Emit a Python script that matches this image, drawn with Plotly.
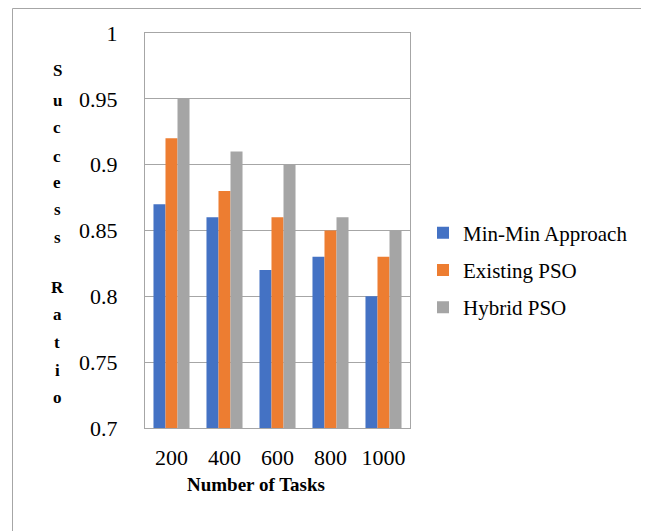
import plotly.graph_objects as go

categories = ["200", "400", "600", "800", "1000"]
min_min = [0.87, 0.86, 0.82, 0.83, 0.80]
existing_pso = [0.92, 0.88, 0.86, 0.85, 0.83]
hybrid_pso = [0.95, 0.91, 0.90, 0.86, 0.85]
series_names = ["Min-Min Approach", "Existing PSO", "Hybrid PSO"]
colors = ["#4472C4", "#ED7D31", "#A5A5A5"]
y_ticks = [0.7, 0.75, 0.8, 0.85, 0.9, 0.95, 1]
y_tick_text = ["0.7", "0.75", "0.8", "0.85", "0.9", "0.95", "1"]
y_title_letters = list("Success") + [""] + list("Ratio")

W, H = 649, 531
OFF = 8  # page body margin
L, T = 145 - OFF, 33 - OFF
R = W - (410 - OFF)
B = H - (428 - OFF)
pw, ph = W - L - R, H - T - B

def px_x(x):
    return (x - OFF - L) / pw

def px_y(y):
    return (H - B - (y - OFF)) / ph

fig = go.Figure()
for i, (name, vals) in enumerate(zip(series_names, [min_min, existing_pso, hybrid_pso])):
    fig.add_trace(go.Bar(x=categories, y=vals, name=name, marker_color=colors[i],
                         marker_line_width=0, legendgroup=name))

font_family = "Liberation Serif"

annotations = []
letter_y = [70, 100, 127, 156, 182, 210, 237, None, 287, 314, 342, 370, 397]
for ch, yy in zip(y_title_letters, letter_y):
    if yy is None or ch == "":
        continue
    annotations.append(dict(text="<b>%s</b>" % ch, x=px_x(57), y=px_y(yy), xref="paper", yref="paper",
                            showarrow=False, xanchor="center", yanchor="middle",
                            font=dict(family=font_family, size=17, color="#000")))
annotations.append(dict(text="<b>Number of Tasks</b>", x=px_x(256), y=px_y(484), xref="paper", yref="paper",
                        showarrow=False, xanchor="center", yanchor="middle",
                        font=dict(family=font_family, size=19, color="#000")))

fig.update_layout(
    width=W, height=H,
    margin=dict(l=L, r=R, t=T, b=B),
    paper_bgcolor="white", plot_bgcolor="white",
    barmode="group", bargap=0.32, bargroupgap=0,
    font=dict(family=font_family, color="#000"),
    showlegend=True,
    legend=dict(x=px_x(423), y=px_y(270), xanchor="left", yanchor="middle",
                font=dict(family=font_family, size=21, color="#000"),
                traceorder="grouped", tracegroupgap=7, bgcolor="rgba(0,0,0,0)"),
    annotations=annotations,
    shapes=[dict(type="rect", xref="paper", yref="paper",
                 x0=px_x(12.5), x1=px_x(647.5), y0=px_y(8.5), y1=px_y(545),
                 line=dict(color="#A6A6A6", width=1), layer="below")],
)
fig.update_xaxes(showline=True, linecolor="#A6A6A6", linewidth=1, mirror=True,
                 tickfont=dict(family=font_family, size=22, color="#000"),
                 ticks="", ticklabelstandoff=10)
fig.update_yaxes(range=[0.7, 1], tickvals=y_ticks, ticktext=y_tick_text,
                 showgrid=True, gridcolor="#A6A6A6", gridwidth=1,
                 showline=True, linecolor="#A6A6A6", linewidth=1, mirror=True,
                 zeroline=False,
                 tickfont=dict(family=font_family, size=22, color="#000"),
                 ticks="", ticklabelstandoff=22)

fig.write_html("out.html")
